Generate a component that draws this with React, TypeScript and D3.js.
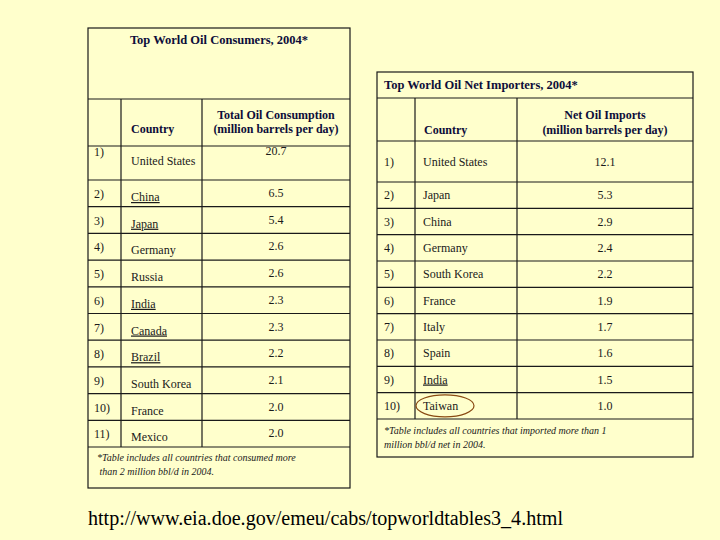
import * as d3 from "d3";

const consumerTitle = "Top World Oil Consumers, 2004*";
const consumerCountries = ["United States", "China", "Japan", "Germany", "Russia", "India", "Canada", "Brazil", "South Korea", "France", "Mexico"];
const consumerValues = [20.7, 6.5, 5.4, 2.6, 2.6, 2.3, 2.3, 2.2, 2.1, 2.0, 2.0];
const consumerLinked = ["China", "Japan", "India", "Canada", "Brazil"];
const consumerHeader = ["Total Oil Consumption", "(million barrels per day)"];
const consumerNote = ["*Table includes all countries that consumed more", " than 2 million bbl/d in 2004."];

const importerTitle = "Top World Oil Net Importers, 2004*";
const importerCountries = ["United States", "Japan", "China", "Germany", "South Korea", "France", "Italy", "Spain", "India", "Taiwan"];
const importerValues = [12.1, 5.3, 2.9, 2.4, 2.2, 1.9, 1.7, 1.6, 1.5, 1.0];
const importerLinked = ["India"];
const importerHeader = ["Net Oil Imports", "(million barrels per day)"];
const importerNote = ["*Table includes all countries that imported more than 1", "million bbl/d net in 2004."];
const circled = "Taiwan";

const sourceUrl = "http://www.eia.doe.gov/emeu/cabs/topworldtables3_4.html";

const BG = "#FFFFCC";
const LINE = "#1a1a1a";
const INK = "#1a1a1a";
const NAVY = "#0d0d3a";
const FONT = "'Liberation Serif', 'Times New Roman', serif";

export default function App() {
  // left table geometry
  const L = { x0: 88, x1: 121, x2: 202, x3: 350, top: 28, titleB: 99, headB: 146, row1B: 180, bodyB: 447, bottom: 488 };
  const lRows = d3.scaleBand<number>()
    .domain(d3.range(1, consumerCountries.length))
    .range([L.row1B, L.bodyB]);

  // right table geometry
  const R = { x0: 377, x1: 415, x2: 517, x3: 693, top: 72, titleB: 98, headB: 141, row1B: 182, bodyB: 419, bottom: 457 };
  const rRows = d3.scaleBand<number>()
    .domain(d3.range(1, importerCountries.length))
    .range([R.row1B, R.bodyB]);

  const fmt = d3.format(".1f");

  const lTop = (i: number) => (i === 0 ? L.headB : lRows(i)!);
  const lBot = (i: number) => (i === 0 ? L.row1B : lRows(i)! + lRows.bandwidth());
  const rTop = (i: number) => (i === 0 ? R.headB : rRows(i)!);
  const rBot = (i: number) => (i === 0 ? R.row1B : rRows(i)! + rRows.bandwidth());

  const lBodyLines = consumerCountries.map((_, i) => lBot(i));
  const rBodyLines = importerCountries.map((_, i) => rBot(i));

  const circledIdx = importerCountries.indexOf(circled);
  const cMid = (rTop(circledIdx) + rBot(circledIdx)) / 2;

  return (
    <svg width={720} height={540} style={{ position: "absolute", left: 0, top: 0 }} fontFamily={FONT}>
      <rect width={720} height={540} fill={BG} />

      {/* left table */}
      <g stroke={LINE} strokeWidth={1.2} fill="none">
        <rect x={L.x0} y={L.top} width={L.x3 - L.x0} height={L.bottom - L.top} />
        <line x1={L.x0} x2={L.x3} y1={L.titleB} y2={L.titleB} />
        <line x1={L.x0} x2={L.x3} y1={L.headB} y2={L.headB} />
        {lBodyLines.map((y, i) => (
          <line key={i} x1={L.x0} x2={L.x3} y1={y} y2={y} />
        ))}
        <line x1={L.x1} x2={L.x1} y1={L.titleB} y2={L.bodyB} />
        <line x1={L.x2} x2={L.x2} y1={L.titleB} y2={L.bodyB} />
      </g>
      <text x={(L.x0 + L.x3) / 2} y={44} textAnchor="middle" fontSize={12.5} fontWeight="bold" fill={NAVY}>
        {consumerTitle}
      </text>
      <text x={131} y={133} fontSize={12} fontWeight="bold" fill={NAVY}>Country</text>
      {consumerHeader.map((t, i) => (
        <text key={t} x={(L.x2 + L.x3) / 2} y={119 + i * 14} textAnchor="middle" fontSize={12} fontWeight="bold" fill={NAVY}>
          {t}
        </text>
      ))}
      {consumerCountries.map((c, i) => {
        const t = lTop(i);
        const numY = i === 0 ? t + 10 : t + 18;
        const cY = i === 0 ? t + 19 : t + 21;
        return (
          <g key={c} fontSize={12} fill={INK}>
            <text x={94} y={numY}>{`${i + 1})`}</text>
            <text x={131} y={cY} textDecoration={consumerLinked.includes(c) ? "underline" : undefined}>{c}</text>
            <text x={(L.x2 + L.x3) / 2} y={numY - 1} textAnchor="middle">{fmt(consumerValues[i])}</text>
          </g>
        );
      })}
      {consumerNote.map((t, i) => (
        <text key={t} x={97} y={461 + i * 14} fontSize={10} fontStyle="italic" fill={INK} xmlSpace="preserve">
          {t}
        </text>
      ))}

      {/* right table */}
      <g stroke={LINE} strokeWidth={1.2} fill="none">
        <rect x={R.x0} y={R.top} width={R.x3 - R.x0} height={R.bottom - R.top} />
        <line x1={R.x0} x2={R.x3} y1={R.titleB} y2={R.titleB} />
        <line x1={R.x0} x2={R.x3} y1={R.headB} y2={R.headB} />
        {rBodyLines.map((y, i) => (
          <line key={i} x1={R.x0} x2={R.x3} y1={y} y2={y} />
        ))}
        <line x1={R.x1} x2={R.x1} y1={R.titleB} y2={R.bodyB} />
        <line x1={R.x2} x2={R.x2} y1={R.titleB} y2={R.bodyB} />
      </g>
      <text x={384} y={89} fontSize={12.5} fontWeight="bold" fill={NAVY}>{importerTitle}</text>
      <text x={424} y={134} fontSize={12} fontWeight="bold" fill={NAVY}>Country</text>
      {importerHeader.map((t, i) => (
        <text key={t} x={(R.x2 + R.x3) / 2} y={119 + i * 15} textAnchor="middle" fontSize={12} fontWeight="bold" fill={NAVY}>
          {t}
        </text>
      ))}
      {importerCountries.map((c, i) => {
        const mid = (rTop(i) + rBot(i)) / 2;
        return (
          <g key={c} fontSize={12} fill={INK}>
            <text x={384} y={mid + 4}>{`${i + 1})`}</text>
            <text x={423} y={mid + 4} textDecoration={importerLinked.includes(c) ? "underline" : undefined}>{c}</text>
            <text x={(R.x2 + R.x3) / 2} y={mid + 4} textAnchor="middle">{fmt(importerValues[i])}</text>
          </g>
        );
      })}
      <ellipse cx={445} cy={cMid} rx={29} ry={11} fill="none" stroke="#8a4a12" strokeWidth={1.2} />
      {importerNote.map((t, i) => (
        <text key={t} x={384} y={434 + i * 14} fontSize={10} fontStyle="italic" fill={INK}>
          {t}
        </text>
      ))}

      <text x={88} y={525} fontSize={20} fill="#000" textLength={475} lengthAdjust="spacingAndGlyphs">
        {sourceUrl}
      </text>
    </svg>
  );
}
